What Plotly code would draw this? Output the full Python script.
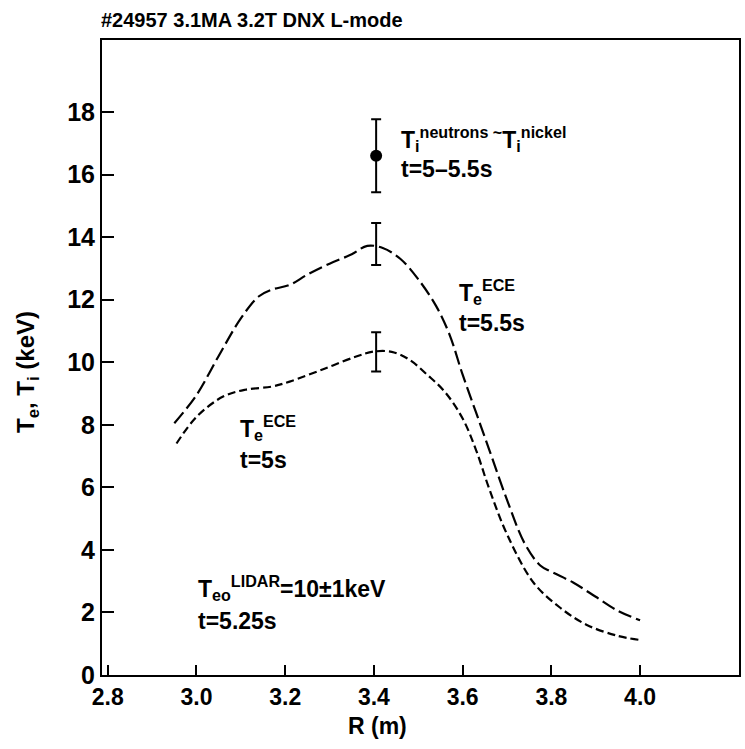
import plotly.graph_objects as go

# ---- data ----
R_hi = [2.95, 3.00, 3.05, 3.10, 3.14, 3.17, 3.21, 3.25, 3.30, 3.35, 3.385, 3.42, 3.46,
        3.50, 3.54, 3.57, 3.60, 3.63, 3.66, 3.70, 3.74, 3.775, 3.80, 3.85, 3.90, 3.95, 4.00]
Te_hi = [8.05, 8.95, 10.2, 11.4, 12.1, 12.32, 12.47, 12.8, 13.15, 13.45, 13.72, 13.65, 13.3,
         12.65, 11.8, 10.9, 9.6, 8.4, 7.2, 5.6, 4.2, 3.5, 3.3, 2.95, 2.5, 2.05, 1.75]

R_lo = [2.955, 3.00, 3.06, 3.11, 3.17, 3.21, 3.29, 3.36, 3.40, 3.44, 3.48, 3.52, 3.56,
        3.60, 3.63, 3.66, 3.70, 3.76, 3.82, 3.88, 3.95, 4.00]
Te_lo = [7.4, 8.25, 8.9, 9.12, 9.22, 9.38, 9.8, 10.18, 10.34, 10.33, 10.08, 9.6, 9.05,
         8.2, 7.2, 5.95, 4.5, 2.95, 2.15, 1.6, 1.25, 1.12]

R_ece_err = [3.405, 3.405]
Te_ece_err = [13.78, 10.33]
Te_ece_sig = [0.67, 0.63]

R_ti = [3.405]
Ti_val = [16.6]
Ti_sig = [1.17]

x_ticks = [2.8, 3.0, 3.2, 3.4, 3.6, 3.8, 4.0]
y_ticks = [0, 2, 4, 6, 8, 10, 12, 14, 16, 18]

FONT = "Liberation Sans, Arial, sans-serif"

W, H = 745, 749
ML, MR, MT, MB = 102, 6, 40, 74
XR = [2.787, 4.223]
YR = [0, 20.3]


def px2p(px):
    return (px - ML) / (W - ML - MR)


def py2p(py):
    return (H - MB - py) / (H - MT - MB)


fig = go.Figure()
fig.add_trace(go.Scatter(x=R_hi, y=Te_hi, mode="lines", line_shape="spline",
                         line=dict(color="black", width=2.2, dash="14px,5px"),
                         showlegend=False, hoverinfo="skip"))
fig.add_trace(go.Scatter(x=R_lo, y=Te_lo, mode="lines", line_shape="spline",
                         line=dict(color="black", width=2.2, dash="8px,4px"),
                         showlegend=False, hoverinfo="skip"))
fig.add_trace(go.Scatter(x=R_ece_err, y=Te_ece_err, mode="markers",
                         marker=dict(size=1, color="rgba(0,0,0,0)"),
                         error_y=dict(type="data", array=Te_ece_sig, color="black",
                                      thickness=2, width=5),
                         showlegend=False, hoverinfo="skip"))
fig.add_trace(go.Scatter(x=R_ti, y=Ti_val, mode="markers",
                         marker=dict(size=12, color="black"),
                         error_y=dict(type="data", array=Ti_sig, color="black",
                                      thickness=2, width=5),
                         showlegend=False, hoverinfo="skip"))

ann = []


def add_text(px, py, text, size=23, anchor="left", yanchor="middle", angle=0):
    ann.append(dict(x=px2p(px), y=py2p(py), xref="paper", yref="paper", text=text,
                    showarrow=False, xanchor=anchor, yanchor=yanchor, textangle=angle,
                    font=dict(family=FONT, size=size, color="black", weight="bold")))


# title
add_text(99, 20, "#24957 3.1MA 3.2T DNX L-mode", size=20)
# axis titles
add_text(377, 726, "R (m)", size=23, anchor="center")
add_text(27, 372, "T<sub>e</sub>, T<sub>i</sub> (keV)", size=24, anchor="center", angle=-90)

# annotations
add_text(399, 139, "T<sub>i</sub><sup>neutrons ~</sup>T<sub>i</sub><sup>nickel</sup>", size=23)
add_text(399, 169, "t=5\u20135.5s", size=23)
add_text(457, 292, "T<sub>e</sub><sup>ECE</sup>", size=23)
add_text(457, 323, "t=5.5s", size=23)
add_text(238, 428, "T<sub>e</sub><sup>ECE</sup>", size=23)
add_text(238, 460, "t=5s", size=23)
add_text(196, 588, "T<sub>eo</sub><sup>LIDAR</sup>=10\u00b11keV", size=23)
add_text(196, 621, "t=5.25s", size=23)

axis_common = dict(showline=True, linecolor="black", linewidth=2, mirror=True,
                   ticks="inside", tickcolor="black", tickwidth=2,
                   showgrid=False, zeroline=False, automargin=False)

fig.update_layout(
    width=W, height=H,
    margin=dict(l=ML, r=MR, t=MT, b=MB),
    plot_bgcolor="white", paper_bgcolor="white",
    xaxis=dict(range=XR, tickvals=x_ticks, ticktext=[f"{v:.1f}" for v in x_ticks],
               ticklen=10,
               tickfont=dict(family=FONT, size=23, color="black", weight="bold"),
               **axis_common),
    yaxis=dict(range=YR, tickvals=y_ticks, ticktext=[str(v) for v in y_ticks],
               ticklen=12,
               tickfont=dict(family=FONT, size=25, color="black", weight="bold"),
               **axis_common),
    annotations=ann,
)

fig.write_html("out.html", config={"displayModeBar": False},
               post_script="document.body.style.margin='0px';document.body.style.padding='0px';")
